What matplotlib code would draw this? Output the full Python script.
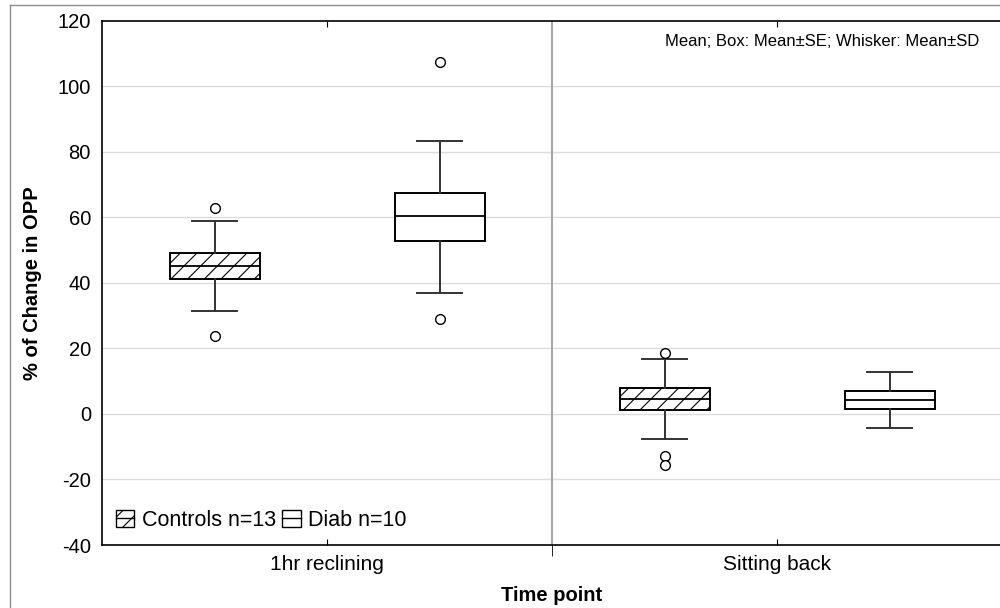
import matplotlib
matplotlib.use("Agg")
import matplotlib.pyplot as plt
from matplotlib.patches import Patch
from matplotlib.lines import Line2D

plt.rcParams['font.family'] = ['Liberation Sans', 'DejaVu Sans']
plt.rcParams['hatch.linewidth'] = 0.8
plt.rcParams['axes.unicode_minus'] = False

# data: mean, mean+-SE (box), mean+-SD (whisker), outliers
time_points = ['1hr reclining', 'Sitting back']
groups = ['Controls n=13', 'Diab n=10']

controls_mean = [45.2, 4.6]
controls_se_lo = [41.2, 1.2]
controls_se_hi = [49.2, 7.9]
controls_sd_lo = [31.4, -7.6]
controls_sd_hi = [58.9, 16.8]
controls_out = [[62.9, 23.8], [18.6, -12.8, -15.6]]

diab_mean = [60.4, 4.3]
diab_se_lo = [52.8, 1.5]
diab_se_hi = [67.5, 7.0]
diab_sd_lo = [36.9, -4.3]
diab_sd_hi = [83.4, 12.8]
diab_out = [[107.5, 29.0], []]

yticks = [-40, -20, 0, 20, 40, 60, 80, 100, 120]


def make_stats(mean, lo, hi, wlo, whi, out):
    stats = []
    for i in range(len(mean)):
        stats.append(dict(med=mean[i], q1=lo[i], q3=hi[i],
                          whislo=wlo[i], whishi=whi[i], fliers=out[i]))
    return stats


fig = plt.figure(figsize=(10, 6.08), dpi=100)
ax = fig.add_axes([0.102, 0.1036, 0.9, 0.862])

# outer frame like the original export
fig.add_artist(Line2D([0.010, 0.010], [0, 1 - 5 / 608], transform=fig.transFigure, color='#8c8c8c', lw=1))
fig.add_artist(Line2D([0.010, 1], [1 - 5 / 608, 1 - 5 / 608], transform=fig.transFigure, color='#8c8c8c', lw=1))

pos = list(range(len(time_points)))
flier = dict(marker='o', markerfacecolor='white', markeredgecolor='black', markersize=7, markeredgewidth=1)
common = dict(widths=0.2, capwidths=0.1, patch_artist=True, showfliers=True,
              medianprops=dict(color='black', lw=1.3),
              whiskerprops=dict(color='#333333', lw=1.4),
              capprops=dict(color='#333333', lw=1.4),
              flierprops=flier, manage_ticks=False, zorder=3)

b1 = ax.bxp(make_stats(controls_mean, controls_se_lo, controls_se_hi, controls_sd_lo, controls_sd_hi, controls_out),
            positions=[p - 0.25 for p in pos],
            boxprops=dict(facecolor='white', edgecolor='black', lw=1.4, hatch='//'), **common)
b2 = ax.bxp(make_stats(diab_mean, diab_se_lo, diab_se_hi, diab_sd_lo, diab_sd_hi, diab_out),
            positions=[p + 0.25 for p in pos],
            boxprops=dict(facecolor='white', edgecolor='black', lw=1.4), **common)

ax.set_xlim(-0.5, 1.5)
ax.set_ylim(-40, 120)
ax.set_yticks(yticks)
for y in yticks[1:-1]:
    ax.axhline(y, color='#dcdcdc', lw=1, zorder=0)
ax.axvline(0.5, color='#a8a8a8', lw=1.5, zorder=1)

ax.set_xticks(pos)
ax.set_xticklabels(time_points)
ax.set_xticks([0.5], minor=True)
ax.tick_params(axis='x', which='major', direction='in', length=4, top=True, pad=7, labelsize=15)
ax.tick_params(axis='x', which='minor', direction='out', length=8, top=False)
ax.tick_params(axis='y', direction='in', length=0, pad=8, labelsize=14.5)
ax.spines['right'].set_visible(False)
for s in ['left', 'bottom', 'top']:
    ax.spines[s].set_linewidth(1.2)

ax.set_xlabel('Time point', fontsize=14.5, fontweight='bold', labelpad=9)
ax.set_ylabel('% of Change in OPP', fontsize=14.5, fontweight='bold', labelpad=11)

ax.text(0.975, 0.975, 'Mean; Box: Mean±SE; Whisker: Mean±SD', transform=ax.transAxes,
        ha='right', va='top', fontsize=12)

h1 = (Patch(facecolor='white', edgecolor='black', hatch='//', lw=1),
      Line2D([0, 1], [0, 0], color='black', lw=1))
h2 = (Patch(facecolor='white', edgecolor='black', lw=1),
      Line2D([0, 1], [0, 0], color='black', lw=1))
ax.legend([h1, h2], groups, loc='lower left', frameon=False, fontsize=15.5,
          handlelength=0.85, handleheight=0.85, handletextpad=0.35, columnspacing=0.3,
          ncol=2, borderaxespad=0.25, bbox_to_anchor=(0.0, 0.0))

fig.savefig('out.png', dpi=100)
